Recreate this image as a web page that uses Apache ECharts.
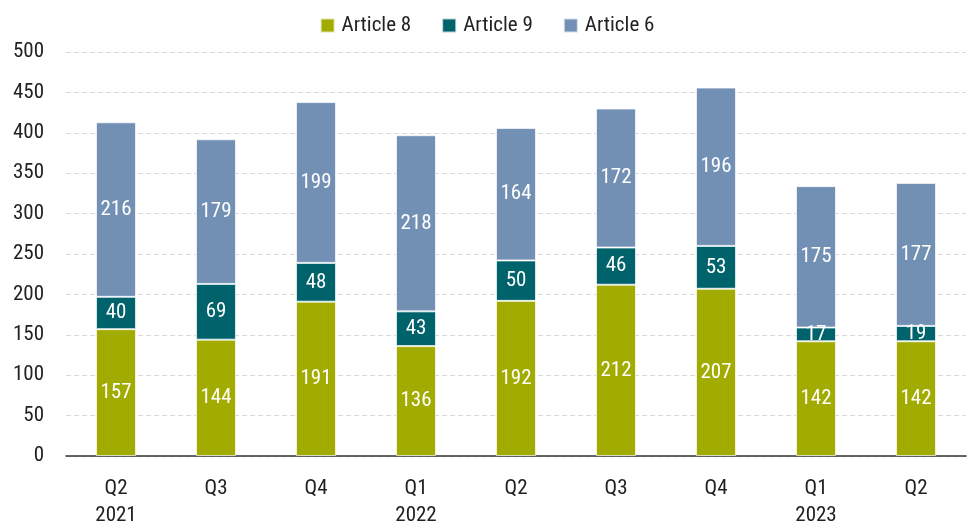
<!DOCTYPE html>
<html>
<head>
<meta charset="utf-8">
<script src="https://cdn.jsdelivr.net/npm/echarts@6/dist/echarts.min.js"></script>
<style>
  html, body { margin: 0; padding: 0; background: #fff; }
  #container { width: 974px; height: 529px; }
</style>
</head>
<body>
<div id="container"></div>
<script>
// quarters on the x axis (year shown under first quarter of each year)
var quarters = ['Q2\n2021', 'Q3', 'Q4', 'Q1\n2022', 'Q2', 'Q3', 'Q4', 'Q1\n2023', 'Q2'];
var article8 = [157, 144, 191, 136, 192, 212, 207, 142, 142];
var article9 = [40, 69, 48, 43, 50, 46, 53, 17, 19];
var article6 = [216, 179, 199, 218, 164, 172, 196, 175, 177];

var font = "'Roboto Condensed', 'Liberation Sans Narrow', 'DejaVu Sans Condensed', 'Roboto', sans-serif";

var dom = document.getElementById('container');
var myChart = echarts.init(dom);

function barSeries(name, data, color) {
  return {
    name: name,
    type: 'bar',
    stack: 'total',
    barWidth: 40,
    data: data,
    itemStyle: {
      color: color,
      borderColor: 'rgba(255,255,255,0.7)',
      borderWidth: 1
    },
    label: {
      show: true,
      position: 'inside',
      color: '#fff',
      fontSize: 21,
      fontFamily: font
    }
  };
}

var option = {
  animation: false,
  textStyle: { fontFamily: font },
  legend: {
    top: 10,
    left: 'center',
    itemWidth: 14,
    itemHeight: 14,
    itemGap: 30,
    icon: 'rect',
    textStyle: { fontSize: 21, color: '#222', fontFamily: font, padding: [0, 0, 0, 2] }
  },
  grid: {
    left: 66,
    right: 8,
    top: 52,
    bottom: 70
  },
  xAxis: {
    type: 'category',
    data: quarters,
    axisLine: { lineStyle: { color: '#333', width: 1.5 } },
    axisTick: { show: false },
    axisLabel: {
      fontSize: 21,
      color: '#222',
      margin: 19,
      lineHeight: 27,
      fontFamily: font
    }
  },
  yAxis: {
    type: 'value',
    min: 0,
    max: 500,
    interval: 50,
    axisLine: { show: false },
    axisTick: { show: false },
    axisLabel: {
      fontSize: 21,
      color: '#222',
      margin: 22,
      fontFamily: font
    },
    splitLine: {
      lineStyle: { color: '#d9d9d9', type: [5, 3] }
    }
  },
  series: [
    barSeries('Article 8', article8, '#a2ab00'),
    barSeries('Article 9', article9, '#00626a'),
    barSeries('Article 6', article6, '#7290b4')
  ]
};

myChart.setOption(option);
</script>
</body>
</html>
